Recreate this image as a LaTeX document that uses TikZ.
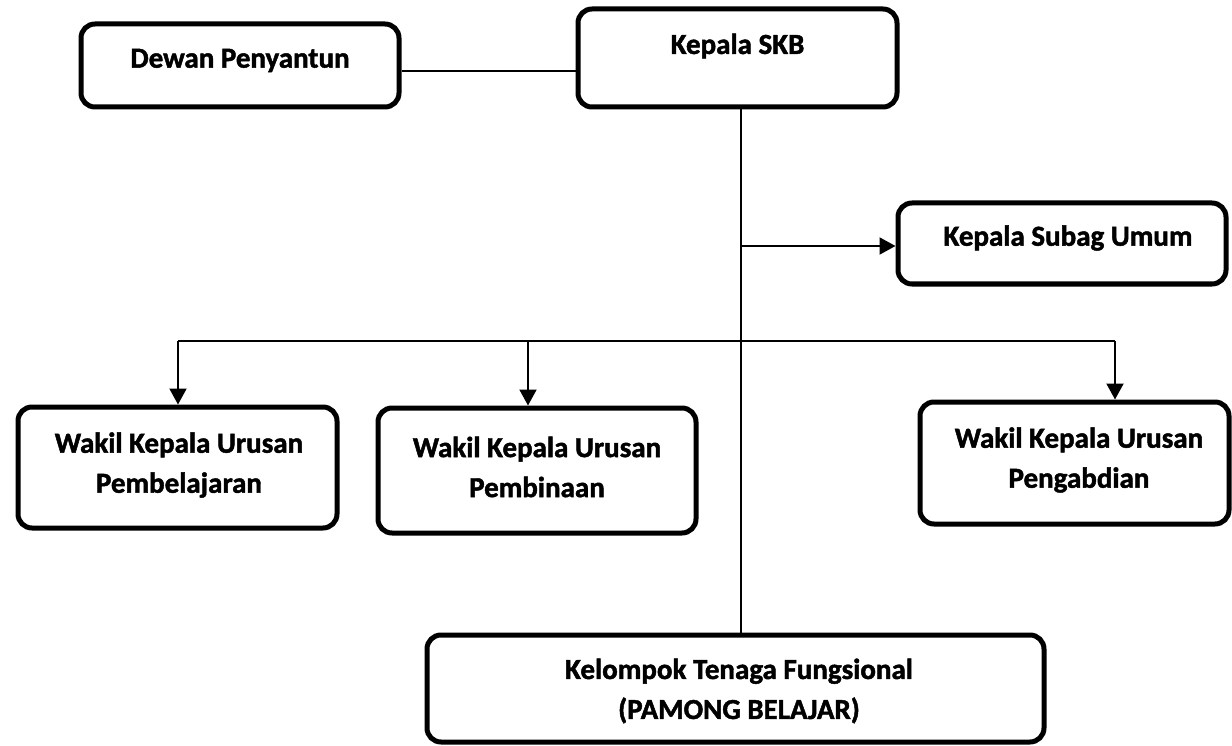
\documentclass[tikz,border=0pt]{standalone}
\usepackage{fontspec}
\setmainfont{Carlito}[BoldFeatures={FakeBold=1.6}]
\usetikzlibrary{arrows.meta}
\tikzset{
  orgbox/.style={draw=black, line width=5pt, rounded corners=14pt, inner sep=0pt, fill=white},
  orgtext/.style={inner sep=0pt, align=center, font=\bfseries\fontsize{29}{40}\selectfont},
  conn/.style={draw=black, line width=2pt},
  arr/.style={conn, -{Triangle[length=16pt, width=17pt]}}
}
\begin{document}
\begin{tikzpicture}[x=1pt, y=-1pt]
\useasboundingbox (0,0) rectangle (1232,746);
\fill[white] (0,0) rectangle (1232,746);

% boxes
\node[orgbox, minimum width=318pt, minimum height=83pt] (dewan) at (240,65.5) {};
\node[orgbox, minimum width=319pt, minimum height=98pt] (kepala) at (737.5,58) {};
\node[orgbox, minimum width=328pt, minimum height=81pt] (subag) at (1062,243.5) {};
\node[orgbox, minimum width=319pt, minimum height=121pt] (wk1) at (177.5,467.5) {};
\node[orgbox, minimum width=318pt, minimum height=125pt] (wk2) at (537,470.5) {};
\node[orgbox, minimum width=309pt, minimum height=122pt] (wk3) at (1074.5,463) {};
\node[orgbox, minimum width=617pt, minimum height=107pt] (kel) at (735.5,688.5) {};

% texts
\node[orgtext] (dewant) at (240,60.5) {Dewan Penyantun};
\node[orgtext] (kepalat) at (737.5,46) {Kepala SKB};
\node[orgtext] (subagt) at (1068,238) {Kepala Subag Umum};
\node[orgtext] (wk1t) at (179,465) {Wakil Kepala Urusan\\Pembelajaran};
\node[orgtext] (wk2t) at (537,467) {Wakil Kepala Urusan\\Pembinaan};
\node[orgtext] (wk3t) at (1079,460) {Wakil Kepala Urusan\\Pengabdian};
\node[orgtext] (kelt) at (739,691) {Kelompok Tenaga Fungsional\\(PAMONG BELAJAR)};

% junction coordinates
\coordinate (j0) at (0,71);
\coordinate (vx) at (741,0);
\coordinate (j1) at (741,246);
\coordinate (bl) at (178,341);
\coordinate (bm) at (528,341);
\coordinate (br) at (1115,341);

% connectors
\draw[conn] (dewan.east |- j0) -- (kepala.west |- j0);
\draw[conn] (kepala.south -| vx) -- (kel.north -| vx);
\draw[arr] (j1) -- (subag.west |- j1);
\draw[conn] (bl) -- (br);
\draw[arr] (bl) -- (wk1.north -| bl);
\draw[arr] (bm) -- (wk2.north -| bm);
\draw[arr] (br) -- (wk3.north -| br);
\end{tikzpicture}
\end{document}
